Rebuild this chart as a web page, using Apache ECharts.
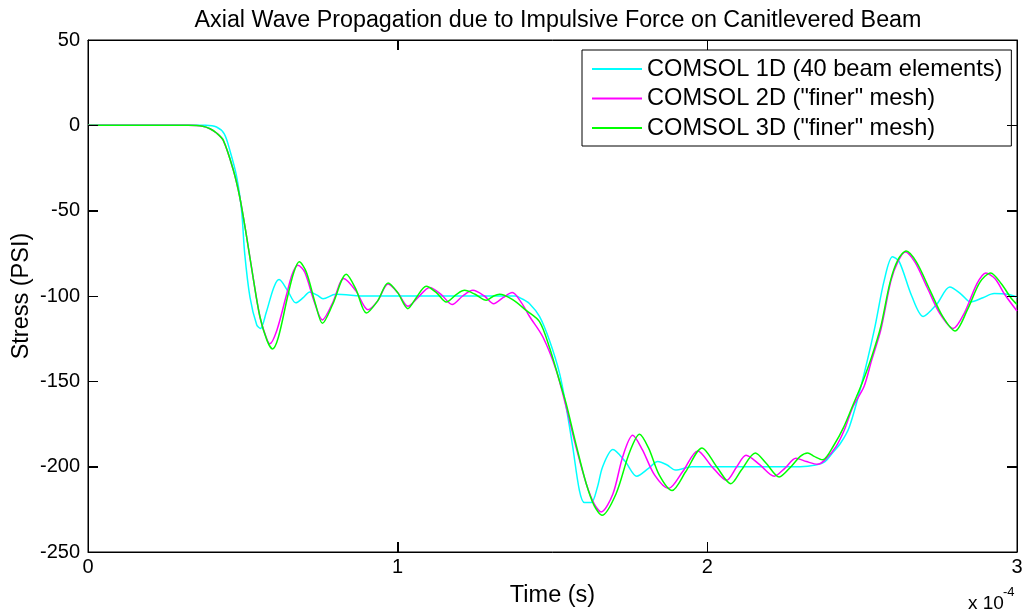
<!DOCTYPE html>
<html>
<head>
<meta charset="utf-8">
<title>Axial Wave Propagation</title>
<script src="https://cdn.jsdelivr.net/npm/echarts@6/dist/echarts.min.js"></script>
<style>
    html, body { margin: 0; padding: 0; background: #fff; }
    #chart { width: 1024px; height: 615px; }
</style>
</head>
<body>
<div id="chart"></div>
<script>
// time is in units of 1e-4 s (axis shows "x 10^-4")
const xTicks = [0, 1, 2, 3];
const yTicks = [-250, -200, -150, -100, -50, 0, 50];
const seriesNames = ['COMSOL 1D (40 beam elements)', 'COMSOL 2D ("finer" mesh)', 'COMSOL 3D ("finer" mesh)'];

const time1D = [0, 0.38, 0.415, 0.44, 0.458, 0.48, 0.496, 0.506, 0.523, 0.545, 0.557, 0.575, 0.6, 0.617, 0.645, 0.671, 0.695, 0.716, 0.74, 0.759, 0.8, 0.9, 1.0, 1.1, 1.2, 1.3, 1.38, 1.4, 1.426, 1.458, 1.49, 1.523, 1.544, 1.565, 1.587, 1.603, 1.625, 1.645, 1.662, 1.695, 1.735, 1.772, 1.81, 1.84, 1.87, 1.897, 1.95, 2.1, 2.2, 2.3, 2.35, 2.38, 2.404, 2.431, 2.458, 2.496, 2.539, 2.571, 2.598, 2.62, 2.66, 2.697, 2.74, 2.783, 2.82, 2.85, 2.89, 2.926, 2.97, 3.0];
const stress1D = [0, 0, -1, -5, -14.6, -30, -50, -75, -100.6, -117, -119, -110, -95, -90.4, -97, -104, -101, -97.6, -99.5, -101.6, -99, -100, -100, -100, -100, -100, -100, -101.5, -104.5, -112, -126, -145.5, -165, -188, -214, -221, -221, -212, -200, -190, -197, -205.6, -201, -197, -199, -202, -200, -200, -200, -200, -199, -197, -192, -186, -177, -153, -120, -91, -77, -80, -100, -112, -105, -94.7, -99, -103.5, -101, -98.6, -99, -100.6];

const time2D = [0, 0.324, 0.37, 0.394, 0.415, 0.437, 0.469, 0.49, 0.512, 0.533, 0.555, 0.575, 0.587, 0.61, 0.64, 0.66, 0.678, 0.7, 0.73, 0.757, 0.79, 0.826, 0.865, 0.904, 0.935, 0.969, 1.0, 1.033, 1.065, 1.103, 1.14, 1.176, 1.21, 1.243, 1.28, 1.31, 1.34, 1.37, 1.4, 1.426, 1.469, 1.512, 1.544, 1.576, 1.609, 1.635, 1.657, 1.695, 1.727, 1.759, 1.79, 1.83, 1.875, 1.92, 1.969, 2.015, 2.062, 2.095, 2.125, 2.17, 2.216, 2.25, 2.286, 2.32, 2.356, 2.38, 2.415, 2.442, 2.47, 2.506, 2.53, 2.56, 2.593, 2.615, 2.639, 2.67, 2.71, 2.75, 2.794, 2.83, 2.87, 2.899, 2.93, 2.96, 3.0];
const stress2D = [0, 0, -0.5, -2, -4.5, -8.8, -26, -42, -65, -89, -112, -124, -128, -120, -100, -87, -82, -86, -103, -114, -104, -89.8, -97, -108, -103, -93, -98, -106, -101, -95, -99, -105, -100, -96.7, -100, -104.5, -101, -98, -104, -112, -124, -143.5, -165, -188.5, -210, -222, -226.5, -216, -194, -181.6, -190, -205, -212.8, -203, -190.8, -200, -208, -200, -193.3, -199, -205.6, -201, -195, -197, -198.6, -196, -188.4, -178.7, -165, -153, -138, -120, -91, -80, -74.2, -80, -95, -110, -119, -110, -93, -86.5, -90, -99, -108.8];

const time3D = [0, 0.324, 0.37, 0.394, 0.415, 0.437, 0.469, 0.49, 0.512, 0.533, 0.555, 0.578, 0.596, 0.615, 0.645, 0.665, 0.682, 0.705, 0.735, 0.757, 0.79, 0.834, 0.865, 0.899, 0.935, 0.969, 1.0, 1.033, 1.06, 1.092, 1.125, 1.157, 1.19, 1.216, 1.25, 1.286, 1.31, 1.329, 1.37, 1.415, 1.458, 1.49, 1.523, 1.544, 1.576, 1.609, 1.635, 1.66, 1.705, 1.748, 1.781, 1.81, 1.845, 1.886, 1.93, 1.983, 2.03, 2.076, 2.11, 2.155, 2.19, 2.232, 2.27, 2.3, 2.324, 2.345, 2.372, 2.41, 2.44, 2.47, 2.5, 2.53, 2.56, 2.59, 2.615, 2.642, 2.675, 2.72, 2.76, 2.8, 2.84, 2.88, 2.915, 2.95, 2.98, 3.0];
const stress3D = [0, 0, -0.5, -2, -4.5, -8.8, -26, -42, -65, -89, -112, -126, -131, -124, -100, -86, -80, -86, -105, -116, -105, -87.3, -96, -110, -103, -92.4, -98, -107.4, -101, -94.3, -98, -103.5, -99, -96.7, -99, -102.5, -100, -99, -102, -108.4, -115, -130, -150, -163, -187, -210, -223, -228.5, -216, -192, -181, -189, -205, -214, -203, -189, -200, -210, -202, -192, -198, -206, -200, -194, -192, -194, -196, -187, -177, -164, -151, -136, -118, -92, -79, -73.6, -80, -97, -112, -120.5, -108, -92, -86.5, -93, -101, -105];

const lineColors = ['#00ffff', '#ff00ff', '#00ff00'];

function pairs(xs, ys) {
    return xs.map((x, i) => [x, ys[i]]);
}

const font = '"Liberation Sans", Arial, sans-serif';

const chart = echarts.init(document.getElementById('chart'), null, { renderer: 'canvas' });

function ticks() {
    return { show: true, inside: true, length: 10, lineStyle: { color: '#000', width: 1 } };
}
function axisLine() {
    return { show: true, onZero: false, lineStyle: { color: '#000', width: 1 } };
}

const labelGraphics = [{
    type: 'text', id: 'exp-base', left: 968, top: 594,
    style: { text: 'x 10', font: '19px ' + font, fill: '#000' }
}, {
    type: 'text', id: 'exp-pow', left: 1003, top: 586,
    style: { text: '-4', font: '13px ' + font, fill: '#000' }
}];

const option = {
    backgroundColor: '#fff',
    animation: false,
    title: {
        text: 'Axial Wave Propagation due to Impulsive Force on Canitlevered Beam',
        left: 553,
        textAlign: 'center',
        top: 4,
        textStyle: { fontFamily: font, fontSize: 23.3, fontWeight: 'normal', color: '#000' }
    },
    legend: {
        orient: 'vertical',
        left: 582,
        top: 50,
        padding: [7, 9, 6, 10],
        itemGap: 5.5,
        itemWidth: 50,
        itemHeight: 2,
        icon: 'rect',
        backgroundColor: '#fff',
        borderColor: '#000',
        borderWidth: 1,
        borderRadius: 0,
        data: seriesNames,
        textStyle: { fontFamily: font, fontSize: 23.6, color: '#000', lineHeight: 23 }
    },
    grid: {
        left: 88, right: 7, top: 40, bottom: 63,
        outerBoundsMode: 'none',
        containLabel: false,
        show: true, borderColor: '#000', borderWidth: 1
    },
    xAxis: [{
        type: 'value',
        min: xTicks[0], max: xTicks[xTicks.length - 1], interval: 1,
        name: 'Time (s)',
        nameLocation: 'middle',
        nameGap: 32,
        nameMoveOverlap: false,
        nameTextStyle: { fontFamily: font, fontSize: 23.5, color: '#000' },
        axisLine: axisLine(),
        axisTick: ticks(),
        axisLabel: { fontFamily: font, fontSize: 20, color: '#000', margin: 5 },
        splitLine: { show: false }
    }, {
        type: 'value', position: 'top',
        min: xTicks[0], max: xTicks[xTicks.length - 1], interval: 1,
        axisLine: axisLine(),
        axisTick: ticks(),
        axisLabel: { show: false },
        splitLine: { show: false }
    }],
    yAxis: [{
        type: 'value',
        min: yTicks[0], max: yTicks[yTicks.length - 1], interval: 50,
        name: 'Stress (PSI)',
        nameLocation: 'middle',
        nameGap: 54,
        nameMoveOverlap: false,
        nameTextStyle: { fontFamily: font, fontSize: 23.5, color: '#000' },
        axisLine: axisLine(),
        axisTick: ticks(),
        axisLabel: { fontFamily: font, fontSize: 20, color: '#000', margin: 8 },
        splitLine: { show: false }
    }, {
        type: 'value', position: 'right',
        min: yTicks[0], max: yTicks[yTicks.length - 1], interval: 50,
        axisLine: axisLine(),
        axisTick: ticks(),
        axisLabel: { show: false },
        splitLine: { show: false }
    }],
    graphic: labelGraphics,
    series: [
        { name: seriesNames[0], data: pairs(time1D, stress1D) },
        { name: seriesNames[1], data: pairs(time2D, stress2D) },
        { name: seriesNames[2], data: pairs(time3D, stress3D) }
    ].map((s, i) => Object.assign({
        type: 'line',
        showSymbol: false,
        symbol: 'none',
        smooth: 0.3,
        color: lineColors[i],
        lineStyle: { color: lineColors[i], width: 1.5 }
    }, s))
};

chart.setOption(option);

// inward tick marks on all four sides, placed through the axes' own scales
const tickLen = 10;
const plotLeft = chart.convertToPixel({ xAxisIndex: 0 }, xTicks[0]);
const plotRight = chart.convertToPixel({ xAxisIndex: 0 }, xTicks[xTicks.length - 1]);
const plotBottom = chart.convertToPixel({ yAxisIndex: 0 }, yTicks[0]);
const plotTop = chart.convertToPixel({ yAxisIndex: 0 }, yTicks[yTicks.length - 1]);
const tickGraphics = [];
const tickShape = (x1, y1, x2, y2) => ({
    type: 'line', silent: true, z: 10,
    shape: { x1: x1, y1: y1, x2: x2, y2: y2 },
    style: { stroke: '#000', lineWidth: 1 }
});
xTicks.slice(1, -1).forEach((v, i) => {
    const x = Math.round(chart.convertToPixel({ xAxisIndex: 0 }, v)) + 0.5;
    tickGraphics.push(Object.assign({ id: 'xtb' + i }, tickShape(x, plotBottom, x, plotBottom - tickLen)));
    tickGraphics.push(Object.assign({ id: 'xtt' + i }, tickShape(x, plotTop, x, plotTop + tickLen)));
});
yTicks.slice(1, -1).forEach((v, i) => {
    const y = Math.round(chart.convertToPixel({ yAxisIndex: 0 }, v)) + 0.5;
    tickGraphics.push(Object.assign({ id: 'ytl' + i }, tickShape(plotLeft, y, plotLeft + tickLen, y)));
    tickGraphics.push(Object.assign({ id: 'ytr' + i }, tickShape(plotRight, y, plotRight - tickLen, y)));
});
chart.setOption({ graphic: labelGraphics.concat(tickGraphics) });
</script>
</body>
</html>
